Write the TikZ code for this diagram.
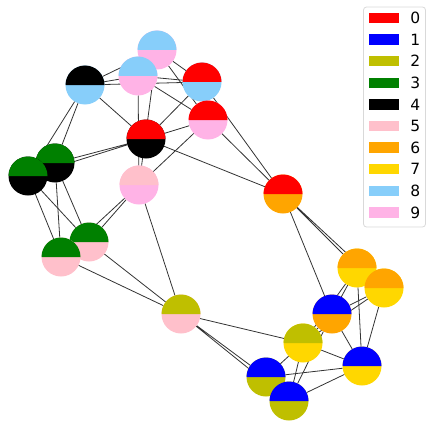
\documentclass[tikz,border=0pt]{standalone}
\usepackage{fontspec}
\setmainfont{DejaVu Sans}
\usepackage{tikz}
\usetikzlibrary{positioning,backgrounds}
\usepackage{xcolor}
\definecolor{Olive}{HTML}{BFBF00}
\definecolor{Leaf}{HTML}{008000}
\definecolor{Rose}{HTML}{FFC0CB}
\definecolor{Amber}{HTML}{FFA500}
\definecolor{Gold}{HTML}{FFD700}
\definecolor{Sky}{HTML}{87CEFA}
\definecolor{Plum}{HTML}{FFB3E6}
\definecolor{Wire}{HTML}{333333}
\tikzset{
  disc/.style={circle, minimum size=39pt, inner sep=0pt, outer sep=0pt},
  wire/.style={draw=Wire, line width=0.8pt},
}
\newcommand\halfnode[4]{%
  \node[disc, fill=#4] (#1) at (#2) {};
  \fill[#3] ([xshift=-19.5pt]#1.center) arc[start angle=180, end angle=0, radius=19.5pt] -- cycle;
}

\begin{document}
\begin{tikzpicture}[x=1pt, y=-1pt,
  swatch/.style={minimum width=30pt, minimum height=10.5pt, inner sep=0pt, fill=#1},
  keytext/.style={right=11pt, inner sep=0pt, font=\fontsize{15.5}{18}\selectfont},
  legframe/.style={draw=black!15, rounded corners=3pt, fill=white, line width=0.8pt,
    minimum width=62pt, minimum height=220pt, inner sep=0pt},
]
  \useasboundingbox (0,0) rectangle (435,425);

  \halfnode{v1}{157,50}{Sky}{Plum}
  \halfnode{v2}{138,76}{Sky}{Plum}
  \halfnode{v3}{85,85}{black}{Sky}
  \halfnode{v4}{202,82}{red}{Sky}
  \halfnode{v5}{208,120}{red}{Plum}
  \halfnode{v6}{146,139}{red}{black}
  \halfnode{v7}{55,163}{Leaf}{black}
  \halfnode{v8}{28,176}{Leaf}{black}
  \halfnode{v9}{139,185}{Rose}{Plum}
  \halfnode{v10}{89,242}{Leaf}{Rose}
  \halfnode{v11}{61,257}{Leaf}{Rose}
  \halfnode{v12}{283,194}{red}{Amber}
  \halfnode{v13}{357,268}{Amber}{Gold}
  \halfnode{v14}{384,288}{Amber}{Gold}
  \halfnode{v15}{332,314}{blue}{Amber}
  \halfnode{v16}{181,314}{Olive}{Rose}
  \halfnode{v17}{303,343}{Olive}{Gold}
  \halfnode{v18}{362,366}{blue}{Gold}
  \halfnode{v19}{266,377}{blue}{Olive}
  \halfnode{v20}{289,401}{blue}{Olive}

  \begin{scope}[on background layer]
    \draw[wire] (v1) -- (v2) (v1) -- (v3) (v1) -- (v4) (v1) -- (v5) (v1) -- (v9);
    \draw[wire] (v2) -- (v3) (v2) -- (v4) (v2) -- (v5) (v2) -- (v9);
    \draw[wire] (v3) -- (v4) (v3) -- (v6) (v3) -- (v7) (v3) -- (v8);
    \draw[wire] (v4) -- (v5) (v4) -- (v6) (v4) -- (v12);
    \draw[wire] (v5) -- (v6) (v5) -- (v9) (v5) -- (v12);
    \draw[wire] (v6) -- (v7) (v6) -- (v8) (v6) -- (v12);
    \draw[wire] (v7) -- (v8) (v7) -- (v10) (v7) -- (v11);
    \draw[wire] (v8) -- (v10) (v8) -- (v11);
    \draw[wire] (v9) -- (v10) (v9) -- (v11) (v9) -- (v16);
    \draw[wire] (v10) -- (v11) (v10) -- (v16) (v11) -- (v16);
    \draw[wire] (v12) -- (v13) (v12) -- (v14) (v12) -- (v15);
    \draw[wire] (v13) -- (v14) (v13) -- (v15) (v13) -- (v17) (v13) -- (v18);
    \draw[wire] (v14) -- (v15) (v14) -- (v17) (v14) -- (v18);
    \draw[wire] (v15) -- (v17) (v15) -- (v18) (v15) -- (v20);
    \draw[wire] (v16) -- (v17) (v16) -- (v19) (v16) -- (v20);
    \draw[wire] (v17) -- (v18) (v17) -- (v19) (v17) -- (v20);
    \draw[wire] (v18) -- (v19) (v18) -- (v20) (v19) -- (v20);
  \end{scope}

  \node[legframe] (leg) at (394.5,117) {};
  \node[swatch=red] (k0) at (384,18) {};
  \node[keytext] at (k0.east) {0};
  \node[swatch=blue] (k1) at (384,39.6) {};
  \node[keytext] at (k1.east) {1};
  \node[swatch=Olive] (k2) at (384,61.2) {};
  \node[keytext] at (k2.east) {2};
  \node[swatch=Leaf] (k3) at (384,82.8) {};
  \node[keytext] at (k3.east) {3};
  \node[swatch=black] (k4) at (384,104.4) {};
  \node[keytext] at (k4.east) {4};
  \node[swatch=Rose] (k5) at (384,126) {};
  \node[keytext] at (k5.east) {5};
  \node[swatch=Amber] (k6) at (384,147.6) {};
  \node[keytext] at (k6.east) {6};
  \node[swatch=Gold] (k7) at (384,169.2) {};
  \node[keytext] at (k7.east) {7};
  \node[swatch=Sky] (k8) at (384,190.8) {};
  \node[keytext] at (k8.east) {8};
  \node[swatch=Plum] (k9) at (384,212.4) {};
  \node[keytext] at (k9.east) {9};
\end{tikzpicture}
\end{document}
